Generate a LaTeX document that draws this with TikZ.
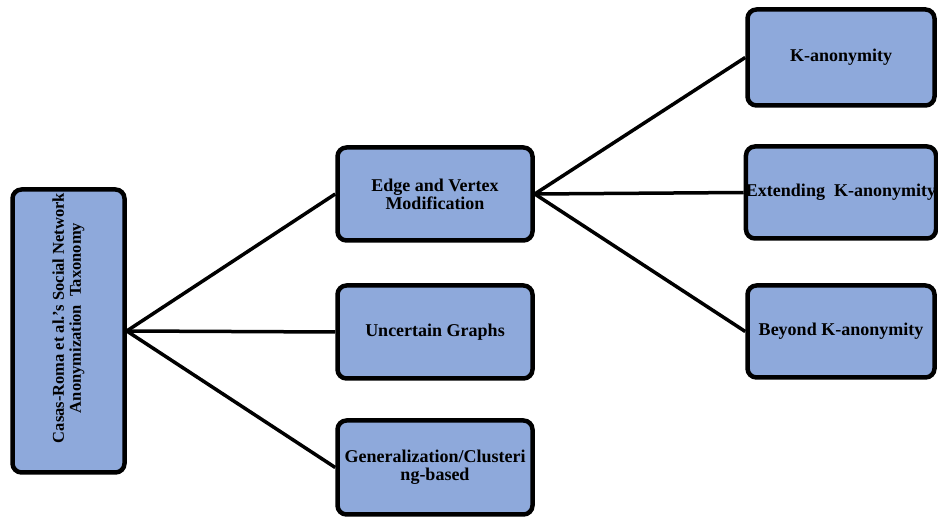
\documentclass[tikz,border=0pt]{standalone}
\usepackage{fontspec}
\setmainfont{Liberation Serif}
\begin{document}
\begin{tikzpicture}[x=1pt,y=-1pt,
  box/.style={draw=black, line width=4.5pt, rounded corners=9pt, fill=boxblue,
    inner sep=0pt, align=center, font=\fontsize{18}{18}\selectfont\bfseries},
  conn/.style={draw=black, line width=3.5pt}]
\definecolor{boxblue}{HTML}{8EA9DB}
\useasboundingbox (0,0) rectangle (938,518);
\node[box, minimum width=112pt, minimum height=283pt] (root) at (68.5,331) {};
\node[rotate=90, align=center, font=\fontsize{16.5}{17}\selectfont\bfseries] (roottext) at (68.5,318)
  {Casas-Roma et al.'s Social Network\\Anonymization\ \ Taxonomy};
\node[box, minimum width=195pt, minimum height=93pt] (ev) at (435,194) {Edge and Vertex\\Modification};
\node[box, minimum width=195pt, minimum height=93pt] (ug) at (435,332) {Uncertain Graphs};
\node[box, minimum width=195pt, minimum height=94pt] (gc) at (435,467.5) {Generalization/Clusteri\\ng-based};
\node[box, minimum width=187pt, minimum height=96pt] (ka) at (841,57.5) {K-anonymity};
\node[box, minimum width=187pt, minimum height=92pt] (ek) at (841,192.5) {Extending\ \ K-anonymity};
\node[box, minimum width=187pt, minimum height=92pt] (bk) at (841,331.5) {Beyond K-anonymity};
\draw[conn] (root.east) -- (ev.west);
\draw[conn] (root.east) -- (ug.west);
\draw[conn] (root.east) -- (gc.west);
\draw[conn] (ev.east) -- (ka.west);
\draw[conn] (ev.east) -- (ek.west);
\draw[conn] (ev.east) -- (bk.west);
\end{tikzpicture}
\end{document}
